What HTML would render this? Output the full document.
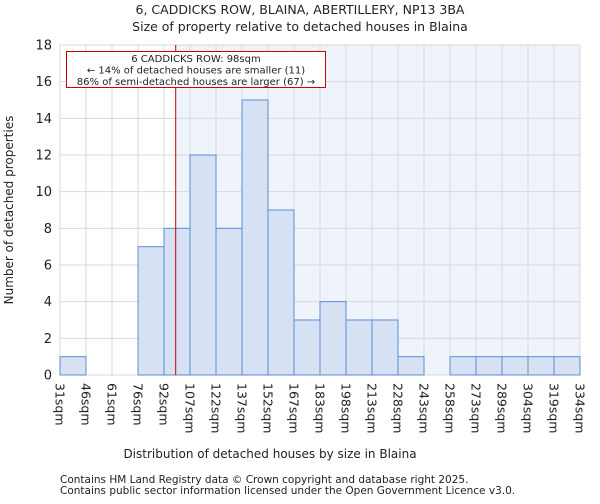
<!DOCTYPE html>
<html><head><meta charset="utf-8"><style>
body{margin:0;background:#fff;font-family:"DejaVu Sans","Liberation Sans",sans-serif;}
svg text{font-family:"DejaVu Sans","Liberation Sans",sans-serif;fill:#222;}
</style></head><body>
<svg id="c" width="600" height="500">
<text x="300" y="14" font-size="12.5" text-anchor="middle">6, CADDICKS ROW, BLAINA, ABERTILLERY, NP13 3BA</text>
<text x="300" y="31" font-size="12.5" text-anchor="middle">Size of property relative to detached houses in Blaina</text>
<g id="plot"></g>
<text x="270" y="458" font-size="12" text-anchor="middle">Distribution of detached houses by size in Blaina</text>
<text transform="translate(13,210) rotate(-90)" font-size="12" text-anchor="middle">Number of detached properties</text>
<text x="60" y="483" font-size="10.5">Contains HM Land Registry data © Crown copyright and database right 2025.</text>
<text x="60" y="494" font-size="10.5">Contains public sector information licensed under the Open Government Licence v3.0.</text>
</svg>
<script>
const categories=["31sqm","46sqm","61sqm","76sqm","92sqm","107sqm","122sqm","137sqm","152sqm","167sqm","183sqm","198sqm","213sqm","228sqm","243sqm","258sqm","273sqm","289sqm","304sqm","319sqm","334sqm"];
const counts=[1,0,0,7,8,12,8,15,9,3,4,3,3,1,0,1,1,1,1,1];
const yTicks=[0,2,4,6,8,10,12,14,16,18];
const markerIndex=4.45;
const NS="http://www.w3.org/2000/svg";
const g=document.getElementById('plot');
const L=60,R=580,T=45,B=375,yMax=18;
const bw=(R-L)/counts.length;
const x=i=>L+i*bw;
const y=v=>B-(v/yMax)*(B-T);
function el(t,a){const e=document.createElementNS(NS,t);for(const k in a)e.setAttribute(k,a[k]);g.appendChild(e);return e;}
const mx=x(markerIndex);
let e=el('rect',{x:mx,y:T,width:R-mx,height:B-T,fill:'#eff3fb'});


yTicks.forEach(v=>{
 const l=el('line',{x1:L,x2:R,y1:y(v),y2:y(v),stroke:'#d8d8d8','stroke-width':1});
 
 
 const t=el('text',{x:L-8,y:y(v)+4.5,'font-size':13,'text-anchor':'end'});t.textContent=v;
 
 
});
categories.forEach((c,i)=>{
 const l=el('line',{x1:x(i),x2:x(i),y1:T,y2:B,stroke:'#d8d8d8','stroke-width':1});
 
 
 const t=el('text',{transform:`translate(${x(i)-4.5},${B+8}) rotate(90)`,'font-size':12.5});t.textContent=c;
 
 
});
counts.forEach((v,i)=>{
 if(v<=0)return;
 const r=el('rect',{x:x(i),y:y(v),width:bw,height:B-y(v),fill:'#d6e2f3',stroke:'#5b8ed6','stroke-width':1});
 
 
});
const ml=el('line',{x1:mx,x2:mx,y1:T,y2:B,stroke:'#cc0000','stroke-width':1});


const box=el('rect',{x:66.5,y:51.5,width:259,height:36,fill:'#fff',stroke:'#cc0000','stroke-width':1});


["6 CADDICKS ROW: 98sqm","← 14% of detached houses are smaller (11)","86% of semi-detached houses are larger (67) →"].forEach((s,k)=>{
 const t=el('text',{x:196,y:62+k*11.5,'font-size':10,'text-anchor':'middle'});t.textContent=s;
 
 
});
</script>
</body></html>
